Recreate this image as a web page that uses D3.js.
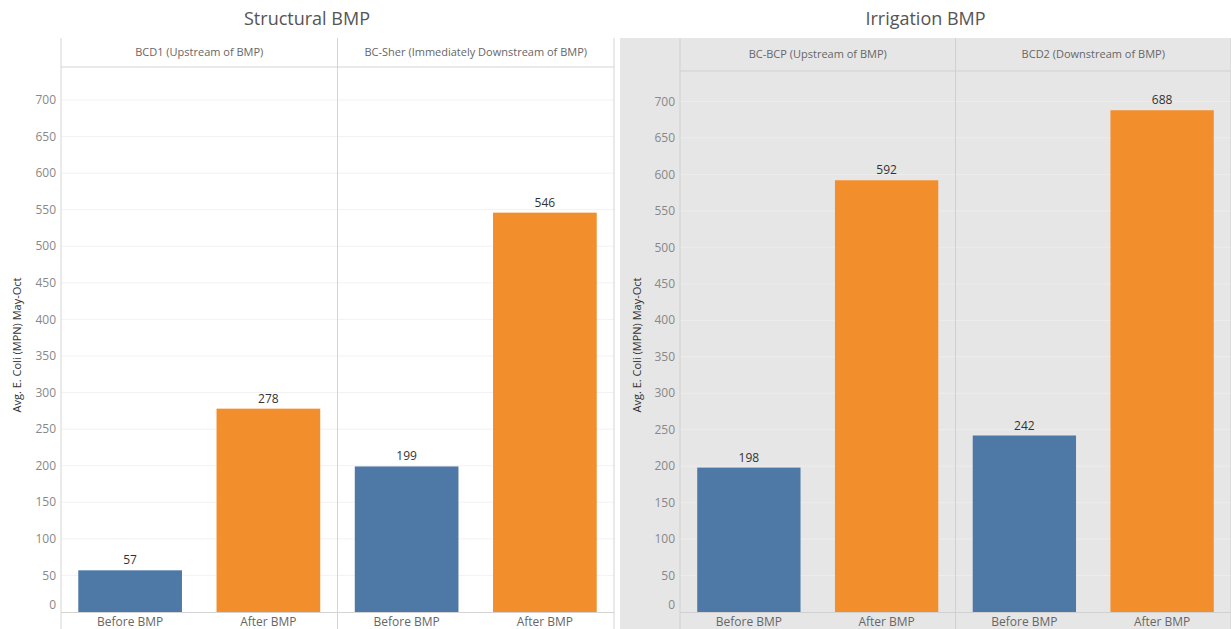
<!DOCTYPE html>
<html>
<head>
<meta charset="utf-8">
<script src="https://cdn.jsdelivr.net/npm/d3@7"></script>
<style>
  body { margin: 0; background: #fff; }
  svg { display: block; font-family: "Open Sans", sans-serif; }
</style>
</head>
<body>
<svg width="1231" height="629"></svg>
<script>
// data
const panels = ["Structural BMP", "Irrigation BMP"];
const sites = [
  ["BCD1 (Upstream of BMP)", "BC-Sher (Immediately Downstream of BMP)"],
  ["BC-BCP (Upstream of BMP)", "BCD2 (Downstream of BMP)"]
];
const periods = ["Before BMP", "After BMP"];
const values = [
  [[57, 278], [199, 546]],
  [[198, 592], [242, 688]]
];
const yTicks = [0, 50, 100, 150, 200, 250, 300, 350, 400, 450, 500, 550, 600, 650, 700];
const yLabel = "Avg. E. Coli (MPN) May-Oct";

const colors = { "Before BMP": "#4e79a7", "After BMP": "#f28e2b" };

// panel layout
const layout = [
  { x0: 0, axisX: 61, x1: 614, top: 38, headerY: 67, bg: "#ffffff", grid: "#f2f2f2", line: "#d4d4d4" },
  { x0: 620, axisX: 680, x1: 1231, top: 38, headerY: 71, bg: "#e6e6e6", grid: "#ededed", line: "#d0d0d0" }
];
const base = 612, bottom = 629;

const svg = d3.select("svg");

panels.forEach((title, pi) => {
  const L = layout[pi];
  const g = svg.append("g");

  g.append("rect")
    .attr("x", L.x0).attr("y", L.top)
    .attr("width", L.x1 - L.x0).attr("height", bottom - L.top)
    .attr("fill", L.bg);

  g.append("text")
    .attr("x", (L.x0 + L.x1) / 2).attr("y", 25)
    .attr("text-anchor", "middle")
    .attr("fill", "#555").style("font-size", "18px")
    .text(title);

  const y = d3.scaleLinear().domain([0, 700]).range([base, pi == 0 ? 100 : 101.5]);

  const fx = d3.scaleBand().domain(sites[pi]).range([L.axisX, L.x1]);
  const x = d3.scaleBand().domain(periods).range([0, fx.bandwidth()]).paddingInner(0.25).paddingOuter(0.125);

  // gridlines
  g.append("g").selectAll("line")
    .data(yTicks.slice(1))
    .join("line")
      .attr("x1", L.axisX).attr("x2", L.x1)
      .attr("y1", d => y(d)).attr("y2", d => y(d))
      .attr("stroke", L.grid);

  // y tick labels
  g.append("g").selectAll("text")
    .data(yTicks)
    .join("text")
      .attr("x", L.axisX - 5)
      .attr("y", d => d == 0 ? y(d) - 7 : y(d))
      .attr("dy", "0.35em")
      .attr("text-anchor", "end")
      .attr("fill", "#888").style("font-size", "12px")
      .text(d => d);

  g.append("text")
    .attr("transform", `translate(${L.x0 + 21},345) rotate(-90)`)
    .attr("text-anchor", "middle")
    .attr("fill", "#333").style("font-size", "11px")
    .text(yLabel);

  // facet headers and dividers
  g.append("line")
    .attr("x1", L.axisX).attr("x2", L.x1)
    .attr("y1", L.headerY).attr("y2", L.headerY)
    .attr("stroke", L.line);

  g.append("g").selectAll("text")
    .data(sites[pi])
    .join("text")
      .attr("x", d => fx(d) + fx.bandwidth() / 2)
      .attr("y", (L.top + L.headerY) / 2)
      .attr("dy", "0.35em")
      .attr("text-anchor", "middle")
      .attr("fill", "#666").style("font-size", "11px")
      .text(d => d);

  g.append("g").selectAll("line")
    .data([L.axisX, fx(sites[pi][1]), L.x1])
    .join("line")
      .attr("x1", d => d).attr("x2", d => d)
      .attr("y1", L.top).attr("y2", bottom)
      .attr("stroke", L.line);

  // bars
  sites[pi].forEach((s, si) => {
    const cg = g.append("g").attr("transform", `translate(${fx(s)},0)`);
    const rows = periods.map((p, k) => ({ p, v: values[pi][si][k] }));

    cg.selectAll("rect")
      .data(rows)
      .join("rect")
        .attr("x", d => x(d.p))
        .attr("width", x.bandwidth())
        .attr("y", d => y(d.v))
        .attr("height", d => base - y(d.v))
        .attr("fill", d => colors[d.p]);

    cg.selectAll("text.val")
      .data(rows)
      .join("text")
        .attr("class", "val")
        .attr("x", d => x(d.p) + x.bandwidth() / 2)
        .attr("y", d => y(d.v) - 6)
        .attr("text-anchor", "middle")
        .attr("fill", "#333").style("font-size", "12px")
        .text(d => d.v);

    cg.selectAll("text.cat")
      .data(periods)
      .join("text")
        .attr("class", "cat")
        .attr("x", d => x(d) + x.bandwidth() / 2)
        .attr("y", 622)
        .attr("dy", "0.35em")
        .attr("text-anchor", "middle")
        .attr("fill", "#666").style("font-size", "12px")
        .text(d => d);
  });

  // baseline
  g.append("line")
    .attr("x1", L.axisX).attr("x2", L.x1)
    .attr("y1", base + 0.5).attr("y2", base + 0.5)
    .attr("stroke", L.line);
});
</script>
</body>
</html>
